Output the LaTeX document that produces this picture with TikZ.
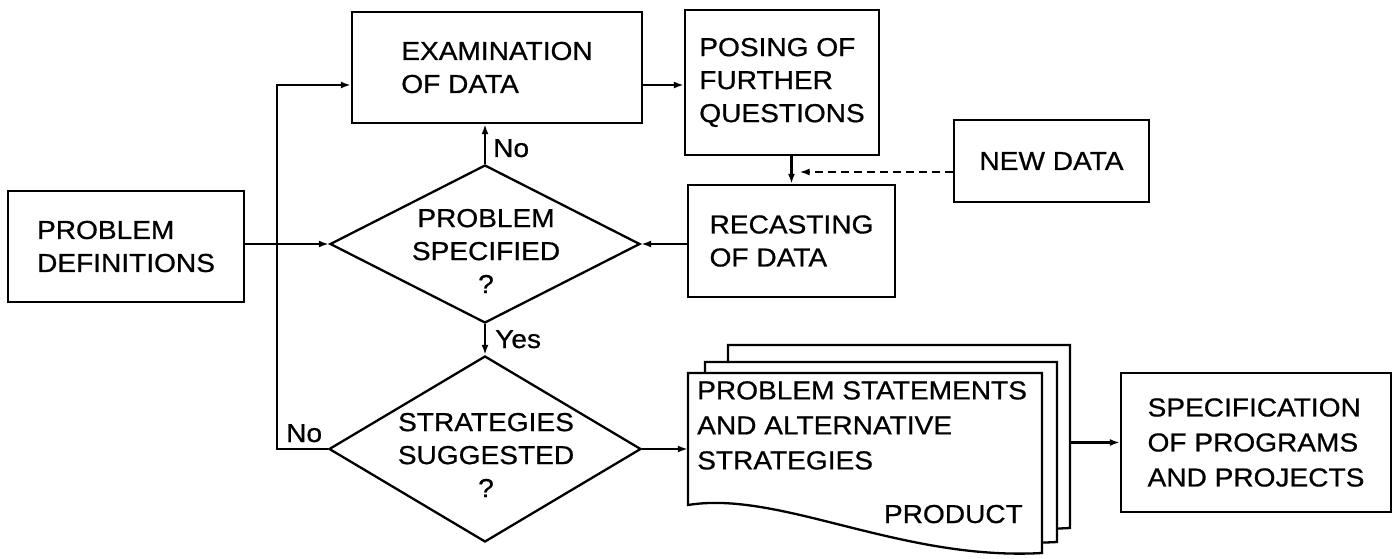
\documentclass[tikz,border=0pt]{standalone}
\usepackage{fontspec}
\setmainfont[FakeStretch=1.08,FakeBold=0.7]{Liberation Sans}
\usetikzlibrary{arrows.meta,shapes.geometric,fit}

% One sheet of the "product" stack: name, left, top, right,
% y of the wavy bottom edge at the left and at the right.
\newcommand\docsheet[6]{%
  \path[sheet] (#2,#3) -- (#4,#3) -- (#4,#6)
    .. controls ({#2+0.6*(#4-#2)},{#6+8}) and ({#2+0.26*(#4-#2)},{#5-15}) ..
    (#2,#5) -- cycle;
  \node[fit={(#2,#3) (#4,#6)}, inner sep=0pt] (#1) {};
}

\begin{document}
\begin{tikzpicture}[x=1pt,y=-1pt,
  every node/.style={font=\fontsize{26}{33}\selectfont},
  box/.style={draw, line width=2.3pt, inner sep=0pt, align=left},
  decision/.style={draw, diamond, line width=2.3pt, inner sep=0pt},
  sheet/.style={draw, fill=white, line width=2.3pt, line join=miter},
  flow/.style={line width=2.3pt, -{Latex[length=10pt,width=7pt]}},
  extra/.style={flow, dash pattern=on 8pt off 5pt},
  tag/.style={anchor=base west, inner sep=0pt}]

  \useasboundingbox (0,0) rectangle (1394,559);

  % process boxes
  \node[box, minimum width=236pt, minimum height=111pt] (pd) at (126,246.5)
    {PROBLEM\\DEFINITIONS};
  \node[box, minimum width=290pt, minimum height=111pt] (exam) at (497,67.5)
    {EXAMINATION\\OF DATA};
  \node[box, minimum width=194pt, minimum height=145pt] (posing) at (782,82.5)
    {POSING OF\\FURTHER\\QUESTIONS};
  \node[box, minimum width=207pt, minimum height=112pt] (recast) at (791.5,241)
    {RECASTING\\OF DATA};
  \node[box, minimum width=195pt, minimum height=82pt] (newdata) at (1051.5,161)
    {NEW DATA};
  \node[box, minimum width=270pt, minimum height=139pt,
        font=\fontsize{26}{35}\selectfont] (spec) at (1256,442.5)
    {SPECIFICATION\\OF PROGRAMS\\AND PROJECTS};

  % decisions
  \node[decision, minimum width=310pt, minimum height=158pt] (d1) at (485,244) {};
  \node[align=center, inner sep=0pt] (d1text) at (486,251)
    {PROBLEM\\SPECIFIED\\?};
  \node[decision, minimum width=312pt, minimum height=186pt] (d2) at (485,449) {};
  \node[align=center, inner sep=0pt] (d2text) at (486,455)
    {STRATEGIES\\SUGGESTED\\?};

  % product: stack of three sheets
  \docsheet{back}{728}{345}{1070}{480}{528}
  \docsheet{middle}{705}{362}{1057}{494}{542}
  \docsheet{front}{688}{373}{1042}{505}{553}
  \node[anchor=north west, inner sep=0pt, align=left,
        font=\fontsize{26}{35}\selectfont] (prodtext) at (697,381)
    {PROBLEM STATEMENTS\\AND ALTERNATIVE\\STRATEGIES};
  \node[anchor=base east, inner sep=0pt] (prodtag) at (1023,523) {PRODUCT};

  % connectors
  \coordinate (loop) at (277,0);
  \draw[flow] (pd.east |- d1.west) -- (d1.west);
  \draw[flow] (d1.north) -- (d1.north |- exam.south);
  \draw[flow] ([yshift=-17.5pt]exam.east) -- ([yshift=-17.5pt]exam.east -| posing.west);
  \draw[flow] (d2.west) -| ([yshift=-17.5pt]exam.west -| loop)
    -- ([yshift=-17.5pt]exam.west);
  \draw[flow] (posing.south -| recast.north) -- (recast.north);
  \draw[extra, shorten >=8pt] ([yshift=-11pt]newdata.west)
    -- ([yshift=-11pt]newdata.west -| recast.north);
  \draw[flow] (recast.west |- d1.east) -- (d1.east);
  \draw[flow] (d1.south) -- (d2.north);
  \draw[flow] (d2.east) -- (d2.east -| front.west);
  \draw[flow] (spec.west -| back.east) -- (spec.west);

  % branch labels
  \node[tag] (no1) at (493,157) {No};
  \node[tag] (yes) at (495,348) {Yes};
  \node[tag] (no2) at (286,442) {No};
\end{tikzpicture}
\end{document}
